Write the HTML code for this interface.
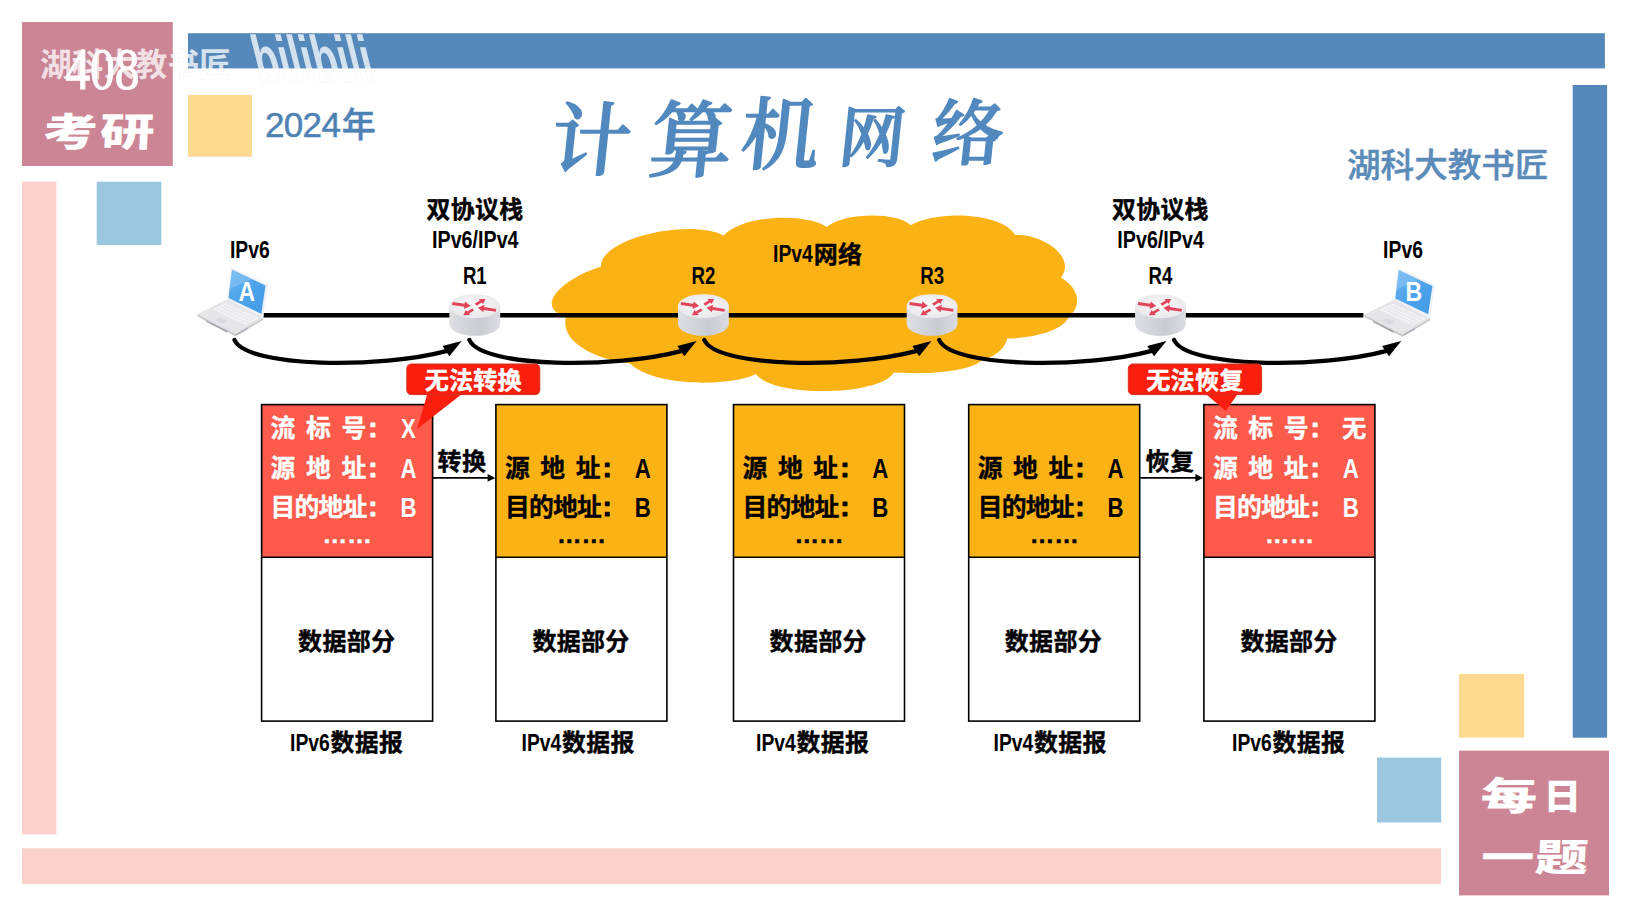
<!DOCTYPE html>
<html lang="zh-CN"><head><meta charset="utf-8"><title>计算机网络 408考研 每日一题</title>
<style>html,body{margin:0;padding:0;background:#fff;overflow:hidden}svg{display:block}text{white-space:pre}</style></head><body>
<svg width="1632" height="918" viewBox="0 0 1632 918">
<defs>
<linearGradient id="rbody" x1="0" x2="1" y1="0" y2="0">
 <stop offset="0" stop-color="#DEDFE3"/><stop offset="0.25" stop-color="#D6D7DC"/><stop offset="0.6" stop-color="#C9CBD3"/><stop offset="1" stop-color="#DCDDE1"/>
</linearGradient>
<radialGradient id="rtop" cx="0.5" cy="0.45" r="0.6">
 <stop offset="0" stop-color="#F8F8F9"/><stop offset="1" stop-color="#E8E8EB"/>
</radialGradient>
<linearGradient id="scr" x1="0" x2="1" y1="0" y2="1">
 <stop offset="0" stop-color="#6BB4F0"/><stop offset="0.45" stop-color="#4FA5EB"/><stop offset="1" stop-color="#3F9AE6"/>
</linearGradient>
<g id="router">
 <path d="M-25.4,0 L-25.4,17.6 A25.4,12 0 0 0 25.4,17.6 L25.4,0 Z" fill="url(#rbody)"/>
 <ellipse cx="0" cy="0" rx="25.4" ry="12" fill="url(#rtop)"/>
 <g fill="#E2455A" stroke="none">
  <path d="M-22.3,-4.1 L-10.2,-2.4 L-9.7,-4.6 L-4.2,-0.1 L-10.9,2.8 L-10.5,0.5 L-22.7,-1.3 Z"/>
  <path d="M21.1,5.5 L9,3.8 L8.5,6 L3,1.5 L9.7,-1.4 L9.3,0.9 L21.5,2.7 Z"/>
  <path d="M0,-2.6 L5.2,-5.6 L3.9,-7.2 L10.8,-7.3 L8.2,-2.2 L6.9,-3.6 L1.7,-0.5 Z"/>
  <path d="M-0.7,4.3 L-5.9,7.3 L-4.6,8.9 L-11.5,9 L-8.9,3.9 L-7.6,5.3 L-2.4,2.2 Z"/>
 </g>
</g>
<g id="laptop">
 <!-- base -->
 <path d="M227.5,299.4 L197.4,314.6 L197.4,316.6 L235.4,336.2 L263.1,320 L263.1,317.9 Z" fill="#C9CACF"/>
 <path d="M227.5,299.4 L197.4,314.6 L235.4,334.1 L263.1,317.9 Z" fill="#E6E6EA"/>
 <path d="M226.1,303.1 L259,317.9 L245.6,325.3 L212.7,309.5 Z" fill="#F4F4F6"/>
 <path d="M222.8,304.7 L255.7,319.8 M219.4,306.3 L252.3,321.6 M216.0,307.9 L248.9,323.4 M229.1,304.4 L215.7,310.9 M232.1,305.8 L218.7,312.4 M235.1,307.1 L221.7,313.8 M238.1,308.5 L224.7,315.2 M241.1,309.8 L227.7,316.7 M244.0,311.2 L230.6,318.1 M247.0,312.5 L233.6,319.6 M250.0,313.9 L236.6,321.0 M253.0,315.2 L239.6,322.4 M256.0,316.6 L242.6,323.9" fill="none" stroke="#DCDCE1" stroke-width="0.45"/>
 <path d="M218.7,317.4 L227.5,321.1 L222.9,323.9 L214.5,320.2 Z" fill="#D9D9DE"/>
 <path d="M206.2,320.4 L227,331 L227,332.4 L206.2,321.8 Z" fill="#9A9BA0"/>
 <path d="M236.5,334.2 L248,327.6 L248,329 L236.5,335.6 Z" fill="#A9AAAF"/>
 <!-- screen -->
 <path d="M230.7,266.9 L268.2,284.5 L263.1,317.6 L227.5,299.4 Z" fill="#EEF1F6"/>
 <path d="M232.1,269.7 L265.5,285.5 L261.3,313.7 L228.4,298 Z" fill="url(#scr)"/>
 <path d="M232.1,269.7 L252,279.2 L229.6,289 Z" fill="#8CC6F5" opacity="0.55"/>
</g>
<g id="carrow">
 <path d="M0,0 C12.4,28.1 147.7,28.4 211.5,11.2" fill="none" stroke="#000" stroke-width="4.3" stroke-linecap="round"/>
 <path d="M227.2,1 L208,6.1 L214.9,16.3 Z" fill="#000"/>
</g>
</defs>
<rect x="188.0" y="33.2" width="1416.9" height="35.2" fill="#5589BB" />
<rect x="1572.7" y="85.0" width="34.4" height="652.7" fill="#5589BB" />
<rect x="22.0" y="22.0" width="150.8" height="144.0" fill="#CC8595" />
<rect x="188.0" y="95.0" width="64.0" height="61.7" fill="#FDDA92" />
<rect x="22.0" y="181.7" width="34.4" height="652.6" fill="#FDD1CB" />
<rect x="96.7" y="181.7" width="64.6" height="63.3" fill="#9AC6DE" />
<rect x="22.0" y="848.3" width="1419.0" height="35.6" fill="#FDD1CB" />
<rect x="1377.0" y="757.6" width="64.2" height="64.9" fill="#9AC6DE" />
<rect x="1459.0" y="673.9" width="65.2" height="63.7" fill="#FDDA92" />
<rect x="1459.0" y="750.6" width="150.0" height="144.8" fill="#CC8595" />
<text x="102.4" y="88.7" font-family="'Liberation Serif','Noto Serif CJK SC',serif" font-size="59.5" font-weight="400" fill="#fff" text-anchor="middle" textLength="74.5" lengthAdjust="spacingAndGlyphs"  stroke="#fff" stroke-width="1.0" stroke-linejoin="round">408</text>
<text transform="translate(42.5,146) scale(1.40,1) skewX(-2)" font-family="'Liberation Sans','Noto Sans CJK SC',sans-serif" font-size="39" font-weight="900" fill="#fff" x="0 40.5" y="0 0">考研</text>
<text transform="translate(1480,810) scale(1.45,1) skewX(-2)" font-family="'Liberation Sans','Noto Sans CJK SC',sans-serif" font-size="39" font-weight="900" fill="#fff">每</text>
<text transform="translate(1543.5,808.5) scale(1.06,1)" font-family="'Liberation Sans','Noto Sans CJK SC',sans-serif" font-size="35.5" font-weight="900" fill="#fff">日</text>
<text transform="translate(1480.5,871) scale(1.40,1) skewX(-2)" font-family="'Liberation Sans','Noto Sans CJK SC',sans-serif" font-size="38" font-weight="900" fill="#fff" x="0 38.5" y="0 0">一题</text>
<g opacity="0.75"><text x="40" y="75.5" font-family="'Liberation Sans','Noto Sans CJK SC',sans-serif" font-size="31.7" font-weight="700" fill="#fff" textLength="191" lengthAdjust="spacing" style="paint-order:stroke" stroke="#8a8a8a" stroke-opacity="0.10" stroke-width="1.5">湖科大教书匠</text>
<text transform="translate(259,81.5) skewX(14)" font-family="'Liberation Sans','Noto Sans CJK SC',sans-serif" font-size="66" font-weight="700" fill="#fff" textLength="118" lengthAdjust="spacingAndGlyphs" stroke="#8a8a8a" stroke-opacity="0.10" stroke-width="1.5" style="paint-order:stroke">bilibili</text></g>
<text font-family="'Liberation Sans','Noto Sans CJK SC',sans-serif" font-weight="500" fill="#4E82B3" stroke="#4E82B3" stroke-width="0.5" y="137" font-size="35" x="265.0 283.8 302.6 321.4"><tspan>2024</tspan><tspan x="341.7" font-size="34">年</tspan></text>
<text x="1347.0" y="176.9" font-family="'Liberation Sans','Noto Sans CJK SC',sans-serif" font-size="33.2" font-weight="500" fill="#5B8BB9" text-anchor="start" textLength="201.5" lengthAdjust="spacingAndGlyphs"  stroke="#5B8BB9" stroke-width="0.45" stroke-linejoin="round">湖科大教书匠</text>
<text transform="skewX(-6)" font-family="'Liberation Serif','Noto Serif CJK SC',serif" font-weight="500" fill="#5189BF" stroke="#5189BF" stroke-width="1.7" stroke-linejoin="round"><tspan x="566.3" y="169.5" font-size="80">计</tspan><tspan x="664.9" y="170" font-size="83">算</tspan><tspan x="755.7" y="163.5" font-size="79">机</tspan><tspan x="853.9" y="161" font-size="66">网</tspan><tspan x="946.2" y="159.5" font-size="72">络</tspan></text>
<path d="M566,316.5 C536,309 556,281 601,266.5 C600,238 690,218 723.7,235.5 C745,213 810,214 826.5,227 C845,212 898,212 910.7,225.3 C935,210 1002,212 1015,234.8 C1046,235 1076,258 1061,277.5 C1082,290 1080,308 1069,317 C1060,334 1025,338 1007.2,338.6 C1005,350 992,358 981.5,360.7 C965,374 915,374 893.9,372.5 C880,396 775,398 755.7,374.1 C735,386 655,388 630,363.5 C590,358 560,340 566,316.5 Z" fill="#FBB215"/>
<line x1="263.5" y1="315.3" x2="1363.4" y2="315.3" stroke="#000" stroke-width="4.4"/>
<use href="#laptop"/>
<use href="#laptop" transform="translate(1166.9,0.5)"/>
<text transform="translate(246.9,300.6) scale(0.84,1)" font-family="'Liberation Sans','Noto Sans CJK SC',sans-serif" font-size="27.4" font-weight="700" fill="#fff" text-anchor="middle" >A</text>
<text transform="translate(1413.9,301.1) scale(0.84,1)" font-family="'Liberation Sans','Noto Sans CJK SC',sans-serif" font-size="27.4" font-weight="700" fill="#fff" text-anchor="middle" >B</text>
<use href="#router" transform="translate(474.8,306.2)"/>
<use href="#router" transform="translate(703.4,306.2)"/>
<use href="#router" transform="translate(932.1,306.2)"/>
<use href="#router" transform="translate(1160.5,306.2)"/>
<use href="#carrow" transform="translate(234.5,340)"/>
<use href="#carrow" transform="translate(469.4,340)"/>
<use href="#carrow" transform="translate(704.3,340)"/>
<use href="#carrow" transform="translate(939.2,340)"/>
<use href="#carrow" transform="translate(1174.1,340)"/>
<text transform="translate(249.8,257.7) scale(0.82,1)" font-family="'Liberation Sans','Noto Sans CJK SC',sans-serif" font-size="23.6" font-weight="700" fill="#000" text-anchor="middle" >IPv6</text>
<text transform="translate(1403.0,258.3) scale(0.82,1)" font-family="'Liberation Sans','Noto Sans CJK SC',sans-serif" font-size="23.6" font-weight="700" fill="#000" text-anchor="middle" >IPv6</text>
<text transform="translate(474.8,284.0) scale(0.79,1)" font-family="'Liberation Sans','Noto Sans CJK SC',sans-serif" font-size="23.6" font-weight="700" fill="#000" text-anchor="middle" >R1</text>
<text transform="translate(703.4,284.0) scale(0.79,1)" font-family="'Liberation Sans','Noto Sans CJK SC',sans-serif" font-size="23.6" font-weight="700" fill="#000" text-anchor="middle" >R2</text>
<text transform="translate(932.1,284.0) scale(0.79,1)" font-family="'Liberation Sans','Noto Sans CJK SC',sans-serif" font-size="23.6" font-weight="700" fill="#000" text-anchor="middle" >R3</text>
<text transform="translate(1160.5,284.0) scale(0.79,1)" font-family="'Liberation Sans','Noto Sans CJK SC',sans-serif" font-size="23.6" font-weight="700" fill="#000" text-anchor="middle" >R4</text>
<text x="475.0" y="218.2" font-family="'Liberation Sans','Noto Sans CJK SC',sans-serif" font-size="23.9" font-weight="700" fill="#000" text-anchor="middle" letter-spacing="0.3" stroke="#000" stroke-width="0.4" stroke-linejoin="round">双协议栈</text>
<text transform="translate(475.3,247.6) scale(0.835,1)" font-family="'Liberation Sans','Noto Sans CJK SC',sans-serif" font-size="23.6" font-weight="700" fill="#000" text-anchor="middle" >IPv6/IPv4</text>
<text x="1160.4" y="218.2" font-family="'Liberation Sans','Noto Sans CJK SC',sans-serif" font-size="23.9" font-weight="700" fill="#000" text-anchor="middle" letter-spacing="0.3" stroke="#000" stroke-width="0.4" stroke-linejoin="round">双协议栈</text>
<text transform="translate(1160.6,247.6) scale(0.835,1)" font-family="'Liberation Sans','Noto Sans CJK SC',sans-serif" font-size="23.6" font-weight="700" fill="#000" text-anchor="middle" >IPv6/IPv4</text>
<text transform="translate(773.0,262.0) scale(0.82,1)" font-family="'Liberation Sans','Noto Sans CJK SC',sans-serif" font-size="23.6" font-weight="700" fill="#000" text-anchor="start" >IPv4</text>
<text x="813.8" y="263.4" font-family="'Liberation Sans','Noto Sans CJK SC',sans-serif" font-size="24.0" font-weight="700" fill="#000" text-anchor="start" letter-spacing="0.3" stroke="#000" stroke-width="0.4" stroke-linejoin="round">网络</text>
<rect x="261.6" y="404.6" width="171.0" height="152.7" fill="#FC5B4C"/>
<rect x="261.6" y="404.6" width="171.0" height="316.5" fill="none" stroke="#000" stroke-width="1.6"/>
<line x1="261.6" y1="557.3" x2="432.6" y2="557.3" stroke="#000" stroke-width="1.6"/>
<text font-family="'Liberation Sans','Noto Sans CJK SC',sans-serif" font-size="24.8" font-weight="700" fill="#fff" stroke="#fff" stroke-width="0.35" y="437.0" x="270.6 306.0 341.4">流标号</text>
<text x="372.9" y="437.4" font-family="'Liberation Sans','Noto Sans CJK SC',sans-serif" font-size="28" font-weight="700" fill="#fff" text-anchor="middle"  stroke="#fff" stroke-width="0.9" stroke-linejoin="round">:</text>
<text transform="translate(408.4,438.0) scale(0.8,1)" font-family="'Liberation Sans','Noto Sans CJK SC',sans-serif" font-size="27.8" font-weight="700" fill="#fff" text-anchor="middle" >X</text>
<text font-family="'Liberation Sans','Noto Sans CJK SC',sans-serif" font-size="24.8" font-weight="700" fill="#fff" stroke="#fff" stroke-width="0.35" y="476.5" x="270.6 306.0 341.4">源地址</text>
<text x="372.9" y="476.9" font-family="'Liberation Sans','Noto Sans CJK SC',sans-serif" font-size="28" font-weight="700" fill="#fff" text-anchor="middle"  stroke="#fff" stroke-width="0.9" stroke-linejoin="round">:</text>
<text transform="translate(408.4,477.5) scale(0.8,1)" font-family="'Liberation Sans','Noto Sans CJK SC',sans-serif" font-size="27.8" font-weight="700" fill="#fff" text-anchor="middle" >A</text>
<text font-family="'Liberation Sans','Noto Sans CJK SC',sans-serif" font-size="24.8" font-weight="700" fill="#fff" stroke="#fff" stroke-width="0.35" y="515.9" x="270.6 294.6 318.6 342.6">目的地址</text>
<text x="372.9" y="516.3" font-family="'Liberation Sans','Noto Sans CJK SC',sans-serif" font-size="28" font-weight="700" fill="#fff" text-anchor="middle"  stroke="#fff" stroke-width="0.9" stroke-linejoin="round">:</text>
<text transform="translate(408.4,516.9) scale(0.8,1)" font-family="'Liberation Sans','Noto Sans CJK SC',sans-serif" font-size="27.8" font-weight="700" fill="#fff" text-anchor="middle" >B</text>
<text x="347.2" y="542.8" font-family="'Liberation Sans','Noto Sans CJK SC',sans-serif" font-size="24.6" font-weight="700" fill="#fff" text-anchor="middle"  stroke="#fff" stroke-width="0.5" stroke-linejoin="round">……</text>
<text x="346.7" y="649.5" font-family="'Liberation Sans','Noto Sans CJK SC',sans-serif" font-size="24.0" font-weight="700" fill="#000" text-anchor="middle" letter-spacing="0.3" stroke="#000" stroke-width="0.4" stroke-linejoin="round">数据部分</text>
<text transform="translate(290.0,750.6) scale(0.82,1)" font-family="'Liberation Sans','Noto Sans CJK SC',sans-serif" font-size="23.6" font-weight="700" fill="#000" text-anchor="start" >IPv6</text>
<text x="330.6" y="750.8" font-family="'Liberation Sans','Noto Sans CJK SC',sans-serif" font-size="23.9" font-weight="700" fill="#000" text-anchor="start" letter-spacing="0.3" stroke="#000" stroke-width="0.4" stroke-linejoin="round">数据报</text>
<rect x="495.9" y="404.6" width="171.0" height="152.7" fill="#FBB215"/>
<rect x="495.9" y="404.6" width="171.0" height="316.5" fill="none" stroke="#000" stroke-width="1.6"/>
<line x1="495.9" y1="557.3" x2="666.9" y2="557.3" stroke="#000" stroke-width="1.6"/>
<text font-family="'Liberation Sans','Noto Sans CJK SC',sans-serif" font-size="24.8" font-weight="700" fill="#000" stroke="#000" stroke-width="0.35" y="476.5" x="504.9 540.3 575.7">源地址</text>
<text x="607.2" y="476.9" font-family="'Liberation Sans','Noto Sans CJK SC',sans-serif" font-size="28" font-weight="700" fill="#000" text-anchor="middle"  stroke="#000" stroke-width="0.9" stroke-linejoin="round">:</text>
<text transform="translate(642.7,477.5) scale(0.8,1)" font-family="'Liberation Sans','Noto Sans CJK SC',sans-serif" font-size="27.8" font-weight="700" fill="#000" text-anchor="middle" >A</text>
<text font-family="'Liberation Sans','Noto Sans CJK SC',sans-serif" font-size="24.8" font-weight="700" fill="#000" stroke="#000" stroke-width="0.35" y="515.9" x="504.9 528.9 552.9 576.9">目的地址</text>
<text x="607.2" y="516.3" font-family="'Liberation Sans','Noto Sans CJK SC',sans-serif" font-size="28" font-weight="700" fill="#000" text-anchor="middle"  stroke="#000" stroke-width="0.9" stroke-linejoin="round">:</text>
<text transform="translate(642.7,516.9) scale(0.8,1)" font-family="'Liberation Sans','Noto Sans CJK SC',sans-serif" font-size="27.8" font-weight="700" fill="#000" text-anchor="middle" >B</text>
<text x="581.5" y="542.8" font-family="'Liberation Sans','Noto Sans CJK SC',sans-serif" font-size="24.6" font-weight="700" fill="#000" text-anchor="middle"  stroke="#000" stroke-width="0.5" stroke-linejoin="round">……</text>
<text x="581.0" y="649.5" font-family="'Liberation Sans','Noto Sans CJK SC',sans-serif" font-size="24.0" font-weight="700" fill="#000" text-anchor="middle" letter-spacing="0.3" stroke="#000" stroke-width="0.4" stroke-linejoin="round">数据部分</text>
<text transform="translate(521.5,750.6) scale(0.82,1)" font-family="'Liberation Sans','Noto Sans CJK SC',sans-serif" font-size="23.6" font-weight="700" fill="#000" text-anchor="start" >IPv4</text>
<text x="562.1" y="750.8" font-family="'Liberation Sans','Noto Sans CJK SC',sans-serif" font-size="23.9" font-weight="700" fill="#000" text-anchor="start" letter-spacing="0.3" stroke="#000" stroke-width="0.4" stroke-linejoin="round">数据报</text>
<rect x="733.5" y="404.6" width="171.0" height="152.7" fill="#FBB215"/>
<rect x="733.5" y="404.6" width="171.0" height="316.5" fill="none" stroke="#000" stroke-width="1.6"/>
<line x1="733.5" y1="557.3" x2="904.5" y2="557.3" stroke="#000" stroke-width="1.6"/>
<text font-family="'Liberation Sans','Noto Sans CJK SC',sans-serif" font-size="24.8" font-weight="700" fill="#000" stroke="#000" stroke-width="0.35" y="476.5" x="742.5 777.9 813.3">源地址</text>
<text x="844.8" y="476.9" font-family="'Liberation Sans','Noto Sans CJK SC',sans-serif" font-size="28" font-weight="700" fill="#000" text-anchor="middle"  stroke="#000" stroke-width="0.9" stroke-linejoin="round">:</text>
<text transform="translate(880.3,477.5) scale(0.8,1)" font-family="'Liberation Sans','Noto Sans CJK SC',sans-serif" font-size="27.8" font-weight="700" fill="#000" text-anchor="middle" >A</text>
<text font-family="'Liberation Sans','Noto Sans CJK SC',sans-serif" font-size="24.8" font-weight="700" fill="#000" stroke="#000" stroke-width="0.35" y="515.9" x="742.5 766.5 790.5 814.5">目的地址</text>
<text x="844.8" y="516.3" font-family="'Liberation Sans','Noto Sans CJK SC',sans-serif" font-size="28" font-weight="700" fill="#000" text-anchor="middle"  stroke="#000" stroke-width="0.9" stroke-linejoin="round">:</text>
<text transform="translate(880.3,516.9) scale(0.8,1)" font-family="'Liberation Sans','Noto Sans CJK SC',sans-serif" font-size="27.8" font-weight="700" fill="#000" text-anchor="middle" >B</text>
<text x="819.1" y="542.8" font-family="'Liberation Sans','Noto Sans CJK SC',sans-serif" font-size="24.6" font-weight="700" fill="#000" text-anchor="middle"  stroke="#000" stroke-width="0.5" stroke-linejoin="round">……</text>
<text x="818.2" y="649.5" font-family="'Liberation Sans','Noto Sans CJK SC',sans-serif" font-size="24.0" font-weight="700" fill="#000" text-anchor="middle" letter-spacing="0.3" stroke="#000" stroke-width="0.4" stroke-linejoin="round">数据部分</text>
<text transform="translate(756.0,750.6) scale(0.82,1)" font-family="'Liberation Sans','Noto Sans CJK SC',sans-serif" font-size="23.6" font-weight="700" fill="#000" text-anchor="start" >IPv4</text>
<text x="796.6" y="750.8" font-family="'Liberation Sans','Noto Sans CJK SC',sans-serif" font-size="23.9" font-weight="700" fill="#000" text-anchor="start" letter-spacing="0.3" stroke="#000" stroke-width="0.4" stroke-linejoin="round">数据报</text>
<rect x="968.7" y="404.6" width="171.0" height="152.7" fill="#FBB215"/>
<rect x="968.7" y="404.6" width="171.0" height="316.5" fill="none" stroke="#000" stroke-width="1.6"/>
<line x1="968.7" y1="557.3" x2="1139.7" y2="557.3" stroke="#000" stroke-width="1.6"/>
<text font-family="'Liberation Sans','Noto Sans CJK SC',sans-serif" font-size="24.8" font-weight="700" fill="#000" stroke="#000" stroke-width="0.35" y="476.5" x="977.7 1013.1 1048.5">源地址</text>
<text x="1080.0" y="476.9" font-family="'Liberation Sans','Noto Sans CJK SC',sans-serif" font-size="28" font-weight="700" fill="#000" text-anchor="middle"  stroke="#000" stroke-width="0.9" stroke-linejoin="round">:</text>
<text transform="translate(1115.5,477.5) scale(0.8,1)" font-family="'Liberation Sans','Noto Sans CJK SC',sans-serif" font-size="27.8" font-weight="700" fill="#000" text-anchor="middle" >A</text>
<text font-family="'Liberation Sans','Noto Sans CJK SC',sans-serif" font-size="24.8" font-weight="700" fill="#000" stroke="#000" stroke-width="0.35" y="515.9" x="977.7 1001.7 1025.7 1049.7">目的地址</text>
<text x="1080.0" y="516.3" font-family="'Liberation Sans','Noto Sans CJK SC',sans-serif" font-size="28" font-weight="700" fill="#000" text-anchor="middle"  stroke="#000" stroke-width="0.9" stroke-linejoin="round">:</text>
<text transform="translate(1115.5,516.9) scale(0.8,1)" font-family="'Liberation Sans','Noto Sans CJK SC',sans-serif" font-size="27.8" font-weight="700" fill="#000" text-anchor="middle" >B</text>
<text x="1054.3" y="542.8" font-family="'Liberation Sans','Noto Sans CJK SC',sans-serif" font-size="24.6" font-weight="700" fill="#000" text-anchor="middle"  stroke="#000" stroke-width="0.5" stroke-linejoin="round">……</text>
<text x="1053.4" y="649.5" font-family="'Liberation Sans','Noto Sans CJK SC',sans-serif" font-size="24.0" font-weight="700" fill="#000" text-anchor="middle" letter-spacing="0.3" stroke="#000" stroke-width="0.4" stroke-linejoin="round">数据部分</text>
<text transform="translate(993.5,750.6) scale(0.82,1)" font-family="'Liberation Sans','Noto Sans CJK SC',sans-serif" font-size="23.6" font-weight="700" fill="#000" text-anchor="start" >IPv4</text>
<text x="1034.1" y="750.8" font-family="'Liberation Sans','Noto Sans CJK SC',sans-serif" font-size="23.9" font-weight="700" fill="#000" text-anchor="start" letter-spacing="0.3" stroke="#000" stroke-width="0.4" stroke-linejoin="round">数据报</text>
<rect x="1203.9" y="404.6" width="171.0" height="152.7" fill="#FC5B4C"/>
<rect x="1203.9" y="404.6" width="171.0" height="316.5" fill="none" stroke="#000" stroke-width="1.6"/>
<line x1="1203.9" y1="557.3" x2="1374.9" y2="557.3" stroke="#000" stroke-width="1.6"/>
<text font-family="'Liberation Sans','Noto Sans CJK SC',sans-serif" font-size="24.8" font-weight="700" fill="#fff" stroke="#fff" stroke-width="0.35" y="437.0" x="1212.9 1248.3 1283.7">流标号</text>
<text x="1315.2" y="437.4" font-family="'Liberation Sans','Noto Sans CJK SC',sans-serif" font-size="28" font-weight="700" fill="#fff" text-anchor="middle"  stroke="#fff" stroke-width="0.9" stroke-linejoin="round">:</text>
<text x="1354.1" y="437.0" font-family="'Liberation Sans','Noto Sans CJK SC',sans-serif" font-size="24.2" font-weight="700" fill="#fff" text-anchor="middle"  stroke="#fff" stroke-width="0.4" stroke-linejoin="round">无</text>
<text font-family="'Liberation Sans','Noto Sans CJK SC',sans-serif" font-size="24.8" font-weight="700" fill="#fff" stroke="#fff" stroke-width="0.35" y="476.5" x="1212.9 1248.3 1283.7">源地址</text>
<text x="1315.2" y="476.9" font-family="'Liberation Sans','Noto Sans CJK SC',sans-serif" font-size="28" font-weight="700" fill="#fff" text-anchor="middle"  stroke="#fff" stroke-width="0.9" stroke-linejoin="round">:</text>
<text transform="translate(1350.7,477.5) scale(0.8,1)" font-family="'Liberation Sans','Noto Sans CJK SC',sans-serif" font-size="27.8" font-weight="700" fill="#fff" text-anchor="middle" >A</text>
<text font-family="'Liberation Sans','Noto Sans CJK SC',sans-serif" font-size="24.8" font-weight="700" fill="#fff" stroke="#fff" stroke-width="0.35" y="515.9" x="1212.9 1236.9 1260.9 1284.9">目的地址</text>
<text x="1315.2" y="516.3" font-family="'Liberation Sans','Noto Sans CJK SC',sans-serif" font-size="28" font-weight="700" fill="#fff" text-anchor="middle"  stroke="#fff" stroke-width="0.9" stroke-linejoin="round">:</text>
<text transform="translate(1350.7,516.9) scale(0.8,1)" font-family="'Liberation Sans','Noto Sans CJK SC',sans-serif" font-size="27.8" font-weight="700" fill="#fff" text-anchor="middle" >B</text>
<text x="1289.5" y="542.8" font-family="'Liberation Sans','Noto Sans CJK SC',sans-serif" font-size="24.6" font-weight="700" fill="#fff" text-anchor="middle"  stroke="#fff" stroke-width="0.5" stroke-linejoin="round">……</text>
<text x="1289.0" y="649.5" font-family="'Liberation Sans','Noto Sans CJK SC',sans-serif" font-size="24.0" font-weight="700" fill="#000" text-anchor="middle" letter-spacing="0.3" stroke="#000" stroke-width="0.4" stroke-linejoin="round">数据部分</text>
<text transform="translate(1232.0,750.6) scale(0.82,1)" font-family="'Liberation Sans','Noto Sans CJK SC',sans-serif" font-size="23.6" font-weight="700" fill="#000" text-anchor="start" >IPv6</text>
<text x="1272.6" y="750.8" font-family="'Liberation Sans','Noto Sans CJK SC',sans-serif" font-size="23.9" font-weight="700" fill="#000" text-anchor="start" letter-spacing="0.3" stroke="#000" stroke-width="0.4" stroke-linejoin="round">数据报</text>
<line x1="433.2" y1="477.9" x2="489.2" y2="477.9" stroke="#000" stroke-width="1.7"/>
<path d="M495.2,477.9 L487.59999999999997,474.0 L487.59999999999997,481.79999999999995 Z" fill="#000"/>
<line x1="1140.2" y1="477.9" x2="1197.0" y2="477.9" stroke="#000" stroke-width="1.7"/>
<path d="M1203.0,477.9 L1195.4,474.0 L1195.4,481.79999999999995 Z" fill="#000"/>
<text x="437.6" y="469.9" font-family="'Liberation Sans','Noto Sans CJK SC',sans-serif" font-size="24.0" font-weight="700" fill="#000" text-anchor="start" letter-spacing="0.3" stroke="#000" stroke-width="0.4" stroke-linejoin="round">转换</text>
<text x="1145.6" y="469.7" font-family="'Liberation Sans','Noto Sans CJK SC',sans-serif" font-size="24.0" font-weight="700" fill="#000" text-anchor="start" letter-spacing="0.3" stroke="#000" stroke-width="0.4" stroke-linejoin="round">恢复</text>
<path d="M427.4,393.6 L417.1,429 L462.6,393.6 Z" fill="#FA1F0F"/>
<rect x="406.8" y="364.0" width="133.0" height="30.6" rx="4.5" ry="4.5" fill="#FA1F0F" stroke="#D8301F" stroke-width="1"/>
<text x="473.3" y="388.5" font-family="'Liberation Sans','Noto Sans CJK SC',sans-serif" font-size="24.1" font-weight="700" fill="#fff" text-anchor="middle" letter-spacing="0.2" stroke="#fff" stroke-width="0.45" stroke-linejoin="round">无法转换</text>
<path d="M1205.2,393.6 L1225.8,410.9 L1238,393.6 Z" fill="#FA1F0F"/>
<rect x="1128.3" y="364.0" width="133.3" height="30.6" rx="4.5" ry="4.5" fill="#FA1F0F" stroke="#D8301F" stroke-width="1"/>
<text x="1194.9" y="388.5" font-family="'Liberation Sans','Noto Sans CJK SC',sans-serif" font-size="24.1" font-weight="700" fill="#fff" text-anchor="middle" letter-spacing="0.2" stroke="#fff" stroke-width="0.45" stroke-linejoin="round">无法恢复</text>
</svg></body></html>
